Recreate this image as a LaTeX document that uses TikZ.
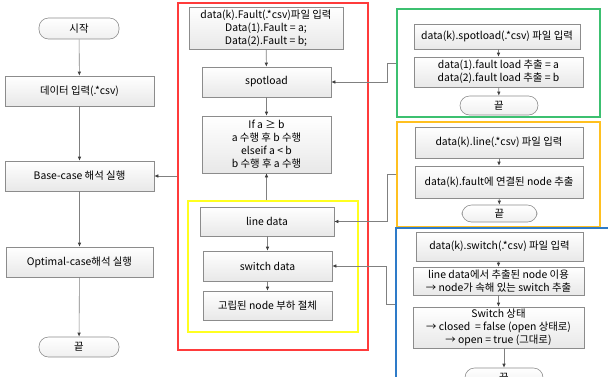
\documentclass[tikz,border=0pt]{standalone}
\usepackage{fontspec}
\setmainfont{Noto Sans CJK KR}
\usetikzlibrary{arrows.meta}
\definecolor{linec}{HTML}{808080}
\definecolor{tipc}{HTML}{404040}
\definecolor{boxb}{HTML}{8C8C8C}
\definecolor{redc}{HTML}{FF3B3B}
\definecolor{greenc}{HTML}{3CC070}
\definecolor{orangec}{HTML}{FFC020}
\definecolor{yellowc}{HTML}{FFFF20}
\definecolor{bluec}{HTML}{2E7BC8}
\tikzset{
  procbox/.style={draw=boxb, line width=0.6pt, top color=white, bottom color=black!9, align=center, inner sep=1pt, font=\fontsize{10.4}{13}\selectfont},
  termbox/.style={draw=boxb, line width=0.6pt, top color=white, bottom color=black!6, rounded corners=9.5pt, inner sep=1pt, font=\fontsize{10.4}{13}\selectfont},
  frame/.style={line width=1.3pt, inner sep=0pt},
  arr/.style={draw=linec, line width=0.6pt, -{Latex[length=4pt,width=3.5pt,color=tipc]}},
}
\begin{document}
\begin{tikzpicture}[x=1pt,y=-1pt]
\useasboundingbox (0,0) rectangle (608,376);
\clip (0,0) rectangle (608,376);
% containers
\node[frame, draw=redc, minimum width=190, minimum height=347] (red) at (273,176.5) {};
\node[frame, draw=yellowc, minimum width=170, minimum height=131] (yellow) at (273,266.5) {};
\node[frame, draw=greenc, line width=1.1pt, minimum width=203, minimum height=108] (green) at (498.5,63) {};
\node[frame, draw=orangec, line width=1.1pt, minimum width=203, minimum height=105] (orange) at (498.5,174.5) {};
\node[frame, draw=bluec, line width=1.1pt, minimum width=224, minimum height=152] (blue) at (508,304) {};
% left column
\node[termbox, minimum width=80, minimum height=21] (start) at (79,28.5) {시작};
\node[procbox, minimum width=149, minimum height=30] (data) at (79.5,91) {데이터 입력(.*csv)};
\node[procbox, minimum width=149, minimum height=30] (base) at (79.5,176) {Base-case 해석 실행};
\node[procbox, minimum width=147, minimum height=30] (opt) at (79.5,262) {Optimal-case해석 실행};
\node[termbox, minimum width=80, minimum height=20] (end1) at (79,347) {끝};
\draw[arr] (start) -- (data);
\draw[arr] (data) -- (base);
\draw[arr] (base) -- (opt);
\draw[arr] (opt) -- (end1);
% red column
\node[procbox, minimum width=154, minimum height=42] (fault) at (266,28) {data(k).Fault(.*csv)파일 입력\\Data(1).Fault = a;\\Data(2).Fault = b;};
\node[procbox, minimum width=129, minimum height=30] (spot) at (266.5,82) {spotload};
\node[procbox, minimum width=129, minimum height=57] (ifb) at (266.5,144.5) {If a ≥ b\\a 수행 후 b 수행\\elseif a < b\\b 수행 후 a 수행};
\node[procbox, minimum width=134, minimum height=29] (line) at (267,221.5) {line data};
\node[procbox, minimum width=129, minimum height=30] (switch) at (267.5,266) {switch data};
\node[procbox, minimum width=129, minimum height=29] (iso) at (267.5,305.5) {고립된 node 부하 절체};
\draw[arr] (fault) -- (spot);
\draw[arr] (spot) -- (ifb);
\draw[arr] (yellow.north -| ifb.south) -- (ifb.south);
\draw[arr] (line.south -| switch.north) -- (switch.north);
\draw[arr] (switch) -- (iso);
\draw[arr] (red.west |- base.east) -- (base.east);
% green
\node[procbox, minimum width=166, minimum height=25] (g1) at (497,36.5) {data(k).spotload(.*csv) 파일 입력};
\node[procbox, minimum width=169, minimum height=30] (g2) at (498.5,72) {data(1).fault load 추출 = a\\data(2).fault load 추출 = b};
\node[termbox, minimum width=78, minimum height=19] (g3) at (499,105.5) {끝};
\draw[arr] (g1.south -| g2.north) -- (g2.north);
\draw[arr] (g2) -- (g3);
% orange
\node[procbox, minimum width=168, minimum height=31] (o1) at (499,142.5) {data(k).line(.*csv) 파일 입력};
\node[procbox, minimum width=168, minimum height=32] (o2) at (499,182) {data(k).fault에 연결된 node 추출};
\node[termbox, minimum width=75, minimum height=17] (o3) at (499.5,213.5) {끝};
\draw[arr] (o1) -- (o2);
\draw[arr] (o2) -- (o3);
% blue
\node[procbox, minimum width=167, minimum height=29] (b1) at (499.5,246.5) {data(k).switch(.*csv) 파일 입력};
\node[procbox, minimum width=171, minimum height=28] (b2) at (498.5,281) {line data에서 추출된 node 이용\\→ node가 속해 있는 switch 추출};
\node[procbox, minimum width=171, minimum height=41] (b3) at (498.5,327.5) {Switch 상태\\→ closed \ = false (open 상태로)\\→ open = true (그대로)};
\node[termbox, minimum width=78, minimum height=19] (b4) at (504,377.5) {끝};
\draw[arr] (b1.south -| b2.north) -- (b2.north);
\draw[arr] (b2) -- (b3);
\draw[arr] (b3.south -| b4.north) -- (b4.north);
% cross connectors
\draw[arr] (green.west) -- ++(-9,0) |- (spot.east);
\draw[arr] (orange.west) -- ++(-9,0) |- (line.east);
\draw[arr] (blue.west) -- ++(-9,0) |- (switch.east);
\end{tikzpicture}
\end{document}
